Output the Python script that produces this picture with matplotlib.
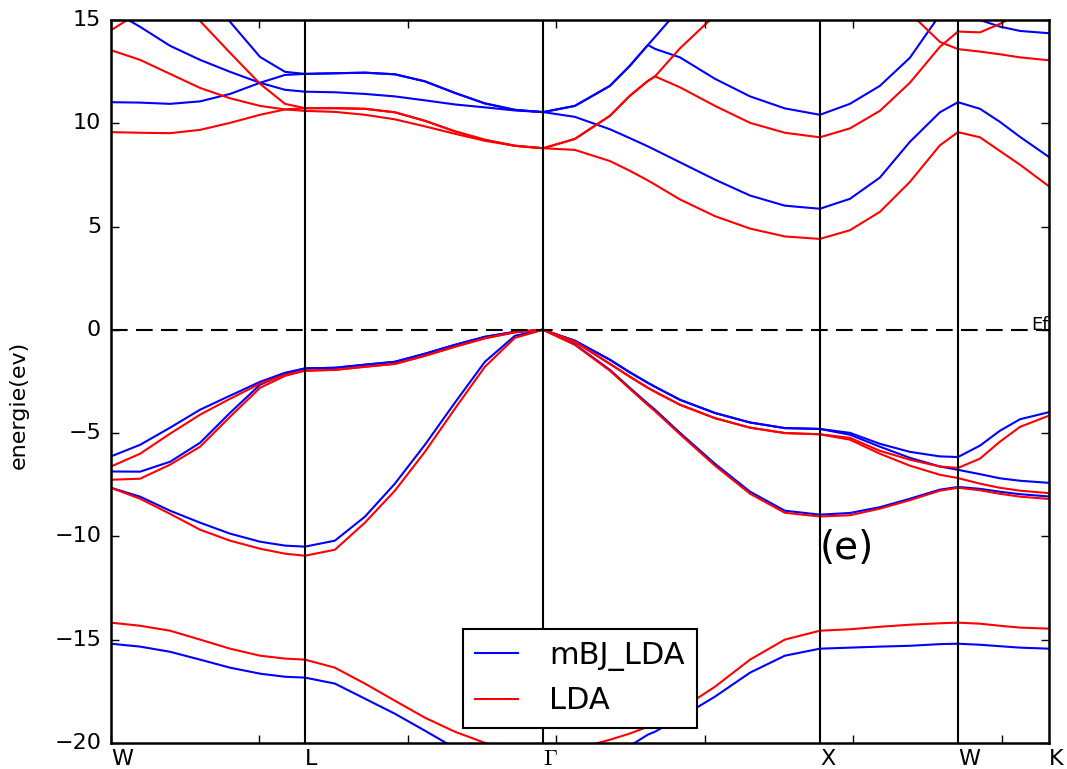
import matplotlib
matplotlib.use('Agg')
import matplotlib.pyplot as plt
import numpy as np
from matplotlib.ticker import MultipleLocator

plt.style.use('classic')

nan = np.nan

# high-symmetry points of the path
sym_labels = ['W', 'L', r'$\Gamma$', 'X', 'W', 'K']
sym_k = [0.000, 0.653, 1.455, 2.387, 2.852, 3.158]

# k-distance of the sampled points
kpath = [0.000, 0.098, 0.199, 0.300, 0.401, 0.502, 0.586, 0.653,
         0.754, 0.855, 0.956, 1.057, 1.158, 1.259, 1.360, 1.455,
         1.562, 1.680, 1.747, 1.808, 1.832, 1.916, 2.034, 2.152, 2.269, 2.387,
         2.488, 2.589, 2.690, 2.791, 2.852,
         2.926, 2.993, 3.061, 3.158]

# mBJ_LDA bands (eV)
mbj_b1 = [-15.20, -15.34, -15.59, -15.97, -16.36, -16.65, -16.80, -16.84,
          -17.13, -17.86, -18.59, -19.41, -20.25, -20.90, -21.30, -21.40,
          -21.00, -20.60, -20.15, -19.60, -19.46, -18.78, -17.76, -16.60, -15.78, -15.44,
          -15.39, -15.34, -15.30, -15.22, -15.20,
          -15.25, -15.32, -15.39, -15.44]
mbj_v1 = [-6.13, -5.57, -4.74, -3.87, -3.19, -2.52, -2.08, -1.87,
          -1.84, -1.69, -1.55, -1.16, -0.73, -0.34, -0.10, 0.00,
          -0.53, -1.45, -2.06, -2.57, -2.76, -3.39, -4.03, -4.49, -4.76, -4.80,
          -4.99, -5.52, -5.91, -6.13, -6.16,
          -5.61, -4.89, -4.33, -3.99]
mbj_v2 = [-6.86, -6.87, -6.39, -5.47, -4.02, -2.66, -2.13, -1.87,
          -1.84, -1.69, -1.55, -1.16, -0.73, -0.34, -0.10, 0.00,
          -0.53, -1.45, -2.06, -2.57, -2.76, -3.39, -4.03, -4.49, -4.76, -4.80,
          -5.08, -5.66, -6.20, -6.62, -6.78,
          -6.99, -7.19, -7.31, -7.41]
mbj_v3 = [-7.65, -8.08, -8.76, -9.34, -9.87, -10.26, -10.45, -10.50,
          -10.21, -9.05, -7.45, -5.57, -3.53, -1.55, -0.29, 0.00,
          -0.70, -1.94, -2.81, -3.58, -3.87, -4.99, -6.49, -7.84, -8.76, -8.95,
          -8.87, -8.59, -8.18, -7.74, -7.61,
          -7.70, -7.84, -7.96, -8.07]
mbj_c1 = [11.02, 11.00, 10.94, 11.06, 11.42, 11.96, 12.34, 12.39,
          12.42, 12.45, 12.37, 12.03, 11.47, 10.96, 10.65, 10.54,
          10.31, 9.71, 9.28, 8.88, 8.71, 8.11, 7.27, 6.50, 6.01, 5.86,
          6.34, 7.37, 9.10, 10.53, 11.02,
          10.70, 10.07, 9.34, 8.37]
mbj_c2 = [23.00, 21.50, 19.50, 17.20, 14.91, 13.21, 12.49, 12.39,
          12.42, 12.45, 12.37, 12.03, 11.47, 10.96, 10.65, 10.54,
          10.84, 11.81, 12.78, 13.79, 13.60, 13.19, 12.15, 11.30, 10.72, 10.41,
          10.94, 11.81, 13.17, 15.25, 16.50,
          15.00, 14.68, 14.47, 14.36]
mbj_c3 = [15.49, 14.67, 13.75, 13.07, 12.49, 11.96, 11.62, 11.53,
          11.50, 11.42, 11.30, 11.11, 10.91, 10.77, 10.62, 10.54,
          10.84, 11.81, 12.78, 13.79, 14.18, 15.57, nan, nan, nan, nan,
          nan, nan, nan, nan, nan,
          nan, nan, nan, nan]

# LDA bands (eV)
lda_b1 = [-14.18, -14.33, -14.57, -15.00, -15.44, -15.78, -15.92, -15.97,
          -16.36, -17.13, -17.96, -18.78, -19.46, -20.00, -20.40, -20.50,
          -20.30, -19.85, -19.55, -19.22, -19.09, -18.39, -17.28, -15.97, -15.00, -14.57,
          -14.50, -14.38, -14.28, -14.21, -14.18,
          -14.23, -14.33, -14.42, -14.47]
lda_v1 = [-6.62, -6.00, -5.03, -4.11, -3.34, -2.61, -2.18, -1.98,
          -1.94, -1.79, -1.65, -1.26, -0.82, -0.41, -0.12, 0.00,
          -0.58, -1.65, -2.27, -2.81, -3.00, -3.63, -4.28, -4.74, -5.00, -5.06,
          -5.23, -5.86, -6.29, -6.62, -6.69,
          -6.24, -5.42, -4.70, -4.16]
lda_v2 = [-7.26, -7.21, -6.53, -5.66, -4.21, -2.81, -2.23, -1.98,
          -1.94, -1.79, -1.65, -1.26, -0.82, -0.41, -0.12, 0.00,
          -0.58, -1.65, -2.27, -2.81, -3.00, -3.63, -4.28, -4.74, -5.00, -5.06,
          -5.32, -6.00, -6.58, -7.02, -7.18,
          -7.45, -7.65, -7.79, -7.91]
lda_v3 = [-7.65, -8.18, -8.91, -9.68, -10.21, -10.60, -10.84, -10.94,
          -10.65, -9.34, -7.79, -5.91, -3.82, -1.79, -0.39, 0.00,
          -0.73, -1.98, -2.86, -3.65, -3.94, -5.06, -6.58, -7.94, -8.86, -9.04,
          -8.98, -8.66, -8.25, -7.79, -7.65,
          -7.77, -7.94, -8.08, -8.19]
lda_c1 = [9.57, 9.54, 9.52, 9.68, 10.02, 10.41, 10.67, 10.73,
          10.73, 10.70, 10.53, 10.12, 9.61, 9.20, 8.91, 8.79,
          8.71, 8.17, 7.70, 7.23, 7.03, 6.31, 5.50, 4.90, 4.52, 4.40,
          4.82, 5.71, 7.16, 8.93, 9.57,
          9.32, 8.66, 7.99, 6.95]
lda_c2 = [19.20, 17.80, 16.36, 14.95, 13.41, 11.91, 10.94, 10.73,
          10.73, 10.70, 10.53, 10.12, 9.61, 9.20, 8.91, 8.79,
          9.24, 10.36, 11.33, 12.05, 12.27, 11.74, 10.84, 10.02, 9.54, 9.32,
          9.75, 10.60, 11.96, 13.70, 14.44,
          14.40, 14.81, 15.34, 15.97]
lda_c3 = [13.54, 13.07, 12.39, 11.71, 11.21, 10.84, 10.67, 10.60,
          10.55, 10.41, 10.19, 9.85, 9.49, 9.15, 8.91, 8.79,
          9.24, 10.36, 11.33, 12.05, 12.27, 13.63, 15.23, nan, nan, nan,
          nan, nan, nan, nan, nan,
          nan, nan, nan, nan]
lda_c4 = [14.50, 15.40, 16.50, nan, nan, nan, nan, nan,
          nan, nan, nan, nan, nan, nan, nan, nan,
          nan, nan, nan, nan, nan, nan, nan, nan, nan, nan,
          nan, nan, 15.34, 13.94, 13.59,
          13.47, 13.34, 13.19, 13.05]

mbj_bands = [mbj_b1, mbj_v1, mbj_v2, mbj_v3, mbj_c1, mbj_c2, mbj_c3]
lda_bands = [lda_b1, lda_v1, lda_v2, lda_v3, lda_c1, lda_c2, lda_c3, lda_c4]


def main():
    plt.rcParams['lines.scale_dashes'] = False
    fig = plt.figure(figsize=(10.67, 7.69), dpi=100, facecolor='white')
    ax = fig.add_axes([0.104, 0.034, 0.879, 0.940])

    for i, band in enumerate(mbj_bands):
        ax.plot(kpath, band, color='b', lw=1.5,
                label='mBJ_LDA' if i == 0 else None)
    for i, band in enumerate(lda_bands):
        ax.plot(kpath, band, color='r', lw=1.5,
                label='LDA' if i == 0 else None)

    for k in sym_k[1:-1]:
        ax.axvline(k, color='k', lw=1.5)
    ax.axhline(0, color='k', lw=1.5, dashes=(12, 6))
    ax.text(3.100, 0, 'Ef', fontsize=13, va='baseline')

    ax.set_xlim(sym_k[0], sym_k[-1])
    ax.set_ylim(-20, 15)
    ax.xaxis.set_major_locator(MultipleLocator(0.5))
    ax.yaxis.set_major_locator(MultipleLocator(5))
    ax.tick_params(labelbottom=False, labelsize=16, length=6, width=1, pad=7)
    for s in ax.spines.values():
        s.set_linewidth(1.8)

    for k, lab in zip(sym_k, sym_labels):
        ax.text(k, -21.05, lab, fontsize=16, ha='left', va='baseline')

    ax.text(sym_k[3], -11.1, '(e)', fontsize=28, ha='left', va='baseline')
    ax.set_ylabel('energie(ev)', fontsize=16)
    ax.yaxis.set_label_coords(-0.088, 0.467)

    leg = ax.legend(loc='lower center', fontsize=22, handlelength=1.4,
                    handletextpad=1.0, numpoints=1)
    leg.get_frame().set_linewidth(1.5)

    fig.savefig('out.png', dpi=100, facecolor='white')


if __name__ == '__main__':
    main()
